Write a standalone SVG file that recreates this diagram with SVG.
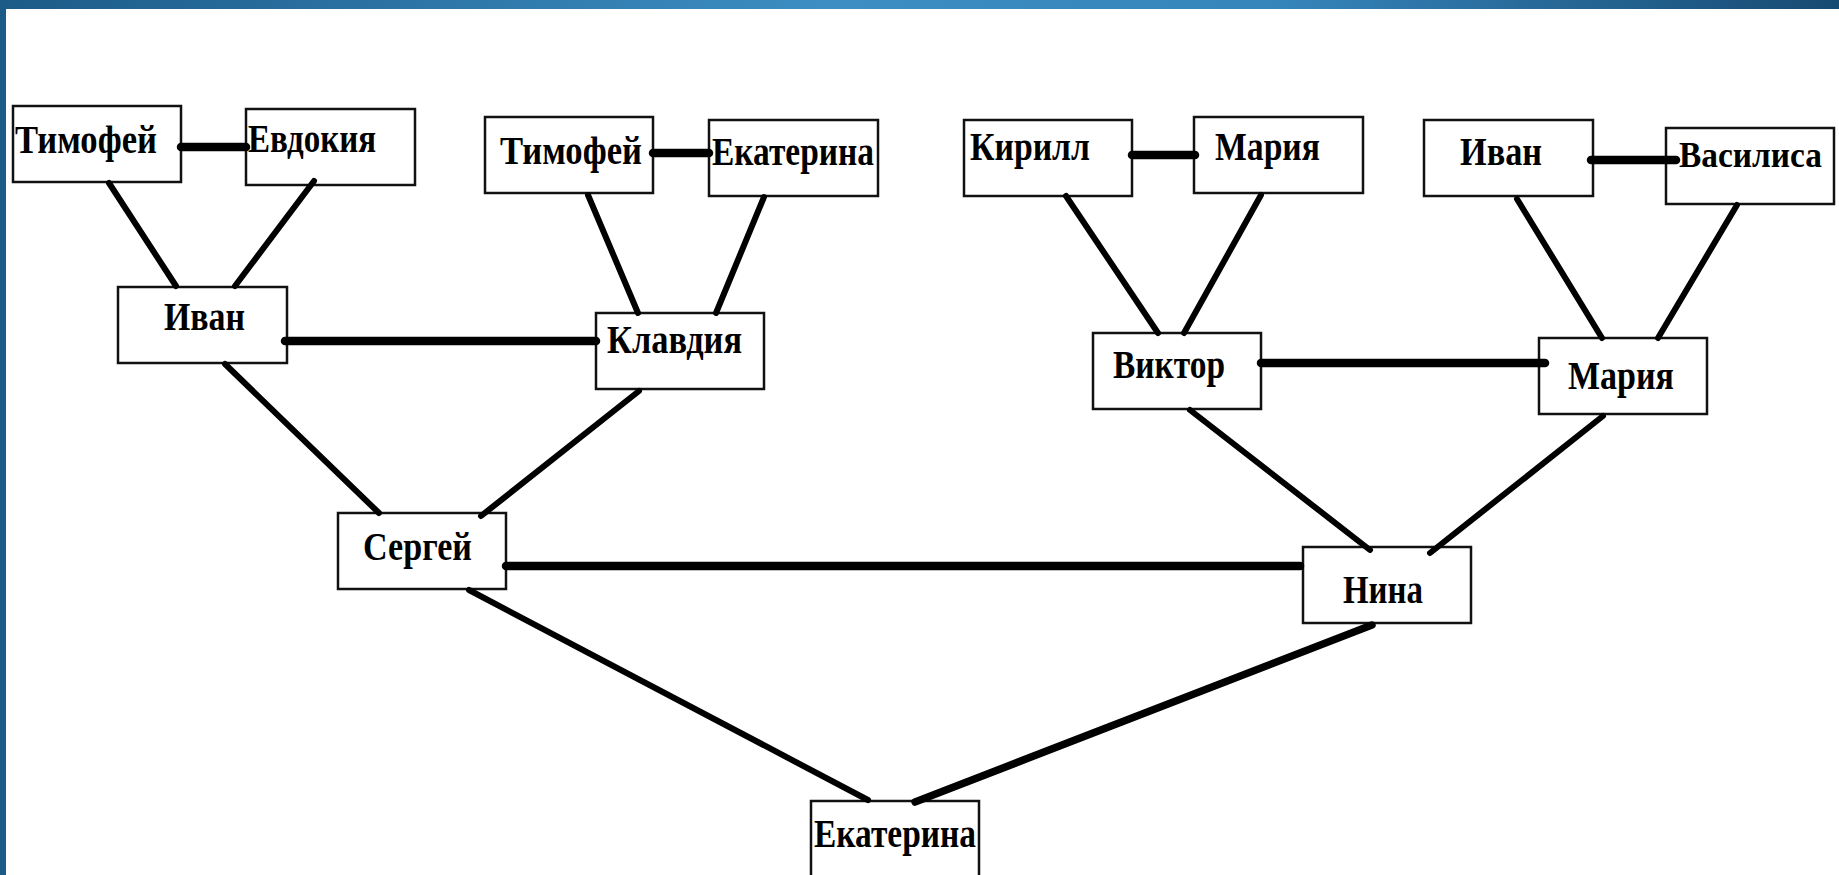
<svg xmlns="http://www.w3.org/2000/svg" width="1839" height="875" viewBox="0 0 1839 875">
<defs>
<linearGradient id="topbar" x1="0" y1="0" x2="1" y2="0">
<stop offset="0" stop-color="#1c5b88"/>
<stop offset="0.45" stop-color="#3d8ec3"/>
<stop offset="0.7" stop-color="#3584ba"/>
<stop offset="1" stop-color="#174a72"/>
</linearGradient>
<style>
.box{fill:#ffffff;stroke:#111111;stroke-width:2.5}
.lbl{font-family:"Liberation Serif","Times New Roman",serif;font-weight:bold;font-size:41px;fill:#000000}
.desc{stroke:#000000;stroke-width:6;stroke-linecap:round;fill:none}
.spouse{stroke:#000000;stroke-width:8.5;stroke-linecap:round;fill:none}
</style>
</defs>
<rect x="0" y="0" width="1839" height="875" fill="#ffffff"/>
<rect x="0" y="0" width="1839" height="9" fill="url(#topbar)"/>
<rect x="0" y="0" width="6" height="875" fill="#1c5b88"/>

<g id="node-timofey1"><rect class="box" x="13" y="106" width="168" height="76"/><text class="lbl" x="15" y="153" textLength="142" lengthAdjust="spacingAndGlyphs">Тимофей</text></g>
<g id="node-evdokiya"><rect class="box" x="246" y="109" width="169" height="76"/><text class="lbl" x="248" y="152" textLength="128" lengthAdjust="spacingAndGlyphs">Евдокия</text></g>
<g id="node-timofey2"><rect class="box" x="485" y="117" width="168" height="76"/><text class="lbl" x="500" y="164" textLength="142" lengthAdjust="spacingAndGlyphs">Тимофей</text></g>
<g id="node-ekaterina1"><rect class="box" x="709" y="120" width="169" height="76"/><text class="lbl" x="712" y="165" textLength="162" lengthAdjust="spacingAndGlyphs">Екатерина</text></g>
<g id="node-kirill"><rect class="box" x="964" y="120" width="168" height="76"/><text class="lbl" x="970" y="160" textLength="120" lengthAdjust="spacingAndGlyphs">Кирилл</text></g>
<g id="node-mariya1"><rect class="box" x="1194" y="117" width="169" height="76"/><text class="lbl" x="1215" y="160" textLength="105" lengthAdjust="spacingAndGlyphs">Мария</text></g>
<g id="node-ivan2"><rect class="box" x="1424" y="120" width="169" height="76"/><text class="lbl" x="1460" y="165" textLength="82" lengthAdjust="spacingAndGlyphs">Иван</text></g>
<g id="node-vasilisa"><rect class="box" x="1666" y="128" width="168" height="76"/><text class="lbl" x="1679" y="167" textLength="143" lengthAdjust="spacingAndGlyphs" style="font-size:36px">Василиса</text></g>
<g id="node-ivan1"><rect class="box" x="118" y="287" width="169" height="76"/><text class="lbl" x="164" y="330" textLength="81" lengthAdjust="spacingAndGlyphs">Иван</text></g>
<g id="node-klavdiya"><rect class="box" x="596" y="313" width="168" height="76"/><text class="lbl" x="607" y="353" textLength="135" lengthAdjust="spacingAndGlyphs">Клавдия</text></g>
<g id="node-viktor"><rect class="box" x="1093" y="333" width="168" height="76"/><text class="lbl" x="1113" y="378" textLength="112" lengthAdjust="spacingAndGlyphs">Виктор</text></g>
<g id="node-mariya2"><rect class="box" x="1539" y="338" width="168" height="76"/><text class="lbl" x="1568" y="389" textLength="106" lengthAdjust="spacingAndGlyphs">Мария</text></g>
<g id="node-sergey"><rect class="box" x="338" y="513" width="168" height="76"/><text class="lbl" x="363" y="560" textLength="109" lengthAdjust="spacingAndGlyphs">Сергей</text></g>
<g id="node-nina"><rect class="box" x="1303" y="547" width="168" height="76"/><text class="lbl" x="1343" y="603" textLength="80" lengthAdjust="spacingAndGlyphs">Нина</text></g>
<g id="node-ekaterina"><rect class="box" x="811" y="801" width="168" height="80"/><text class="lbl" x="814" y="847" textLength="162" lengthAdjust="spacingAndGlyphs">Екатерина</text></g>

<g id="connectors">
<line class="spouse" x1="181" y1="147" x2="246" y2="147"/>
<line class="spouse" x1="653" y1="153" x2="709" y2="153"/>
<line class="spouse" x1="1132" y1="155" x2="1195" y2="155"/>
<line class="spouse" x1="1591" y1="160" x2="1676" y2="160"/>
<line class="spouse" x1="285" y1="341" x2="596" y2="341"/>
<line class="spouse" x1="1261" y1="363" x2="1545" y2="363"/>
<line class="spouse" x1="506" y1="566" x2="1300" y2="566"/>
<line class="desc" x1="109" y1="183" x2="176" y2="286"/>
<line class="desc" x1="314" y1="181" x2="235" y2="286"/>
<line class="desc" x1="588" y1="195" x2="638" y2="313"/>
<line class="desc" x1="764" y1="197" x2="716" y2="313"/>
<line class="desc" x1="1066" y1="196" x2="1158" y2="333"/>
<line class="desc" x1="1261" y1="195" x2="1184" y2="333"/>
<line class="desc" x1="1517" y1="199" x2="1602" y2="338"/>
<line class="desc" x1="1737" y1="205" x2="1658" y2="338"/>
<line class="desc" x1="225" y1="364" x2="379" y2="513"/>
<line class="desc" x1="639" y1="391" x2="481" y2="516"/>
<line class="desc" x1="1190" y1="410" x2="1370" y2="550"/>
<line class="desc" x1="1603" y1="416" x2="1430" y2="553"/>
<line class="desc" x1="469" y1="590" x2="868" y2="800"/>
<line class="desc" x1="1372" y1="625" x2="915" y2="802" style="stroke-width:7.5"/>
</g>
</svg>
